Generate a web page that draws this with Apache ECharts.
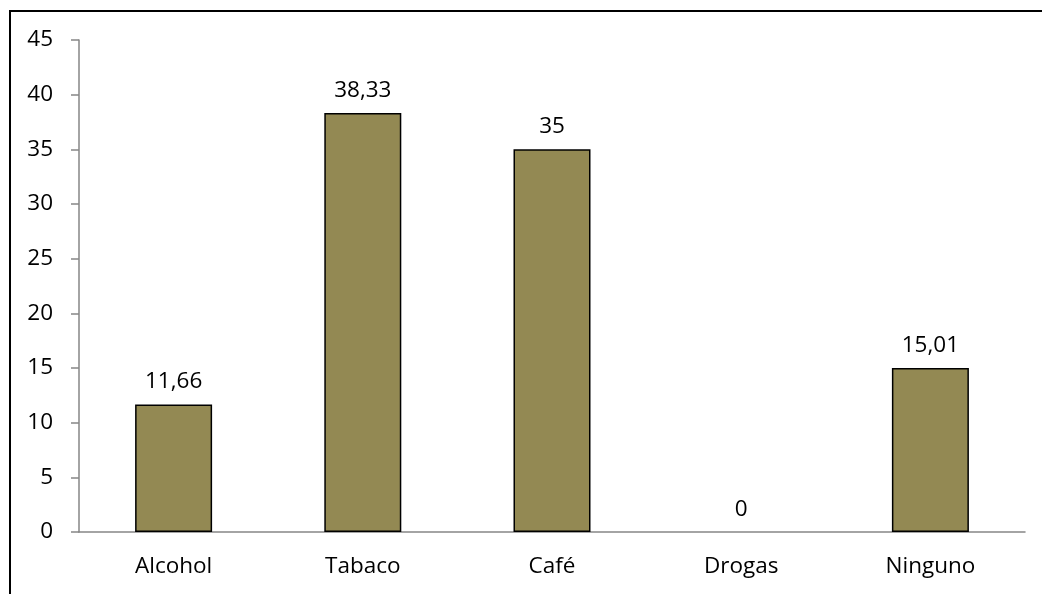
<!DOCTYPE html>
<html>
<head>
<meta charset="utf-8">
<script src="https://cdn.jsdelivr.net/npm/echarts@6/dist/echarts.min.js"></script>
<style>
  html, body { margin: 0; padding: 0; background: #fff; }
  #chart { width: 1042px; height: 594px; }
</style>
</head>
<body>
<div id="chart"></div>
<script>
// Consumo de sustancias (%)
const categories = ['Alcohol', 'Tabaco', 'Café', 'Drogas', 'Ninguno'];
const values = [11.66, 38.33, 35, 0, 15.01];
const yMin = 0;
const yMax = 45;
const yStep = 5;

const FONT = '"Open Sans", "Liberation Sans", sans-serif';
const chart = echarts.init(document.getElementById('chart'), null, { renderer: 'canvas' });

// zero-height bars get no outline, so nothing is drawn over the axis
const barData = values.map(v => v === 0 ? { value: v, itemStyle: { borderWidth: 0 } } : v);

chart.setOption({
  animation: false,
  backgroundColor: '#ffffff',
  graphic: [{
    type: 'rect',
    shape: { x: 10, y: 11, width: 1200, height: 800 },
    style: { fill: 'none', stroke: '#000000', lineWidth: 2 },
    silent: true,
    z: 100
  }],
  grid: { left: 79, right: 17, top: 40, bottom: 62, containLabel: false },
  xAxis: {
    type: 'category',
    data: categories,
    axisLine: { lineStyle: { color: '#868686', width: 1.5 } },
    axisTick: { show: false },
    axisLabel: { color: '#000', fontFamily: FONT, fontSize: 22.5, margin: 23 }
  },
  yAxis: {
    type: 'value',
    min: yMin,
    max: yMax,
    interval: yStep,
    axisLine: { show: true, lineStyle: { color: '#868686', width: 1.5 } },
    axisTick: { show: true, length: 8, lineStyle: { color: '#868686', width: 1.5 } },
    splitLine: { show: false },
    axisLabel: { color: '#000', fontFamily: FONT, fontSize: 22.5, margin: 26 }
  },
  series: [{
    type: 'bar',
    data: barData,
    barWidth: '40.7%',
    itemStyle: { color: '#938953', borderColor: '#000000', borderWidth: 1.5 },
    label: {
      show: true,
      position: 'top',
      distance: 11,
      color: '#000',
      fontFamily: FONT,
      fontSize: 22.5,
      formatter: p => String(p.value).replace('.', ',')
    }
  }]
});
</script>
</body>
</html>
